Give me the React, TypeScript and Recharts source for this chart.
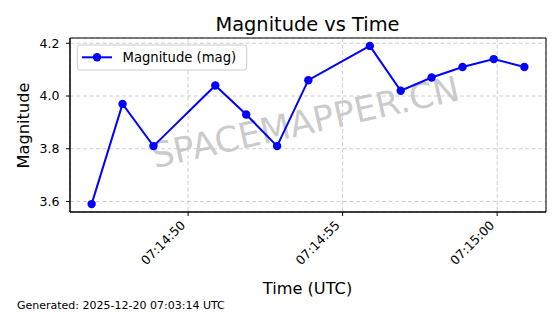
import React from 'react';
import { LineChart, Line, XAxis, YAxis, CartesianGrid, ReferenceArea } from 'recharts';

// seconds after 07:14:00 UTC
const times = [46.88, 47.88, 48.88, 50.88, 51.88, 52.88, 53.89, 55.88, 56.88, 57.88, 58.88, 59.89, 60.88];
const magnitudes = [3.59, 3.97, 3.81, 4.04, 3.93, 3.81, 4.06, 4.19, 4.02, 4.07, 4.11, 4.14, 4.11];
const xTicks = [50, 55, 60];
const xTickLabels = ['07:14:50', '07:14:55', '07:15:00'];
const yTicks = [3.6, 3.8, 4.0, 4.2];
const xDomain = [46.18, 61.58];
const yDomain = [3.56, 4.22];

const seriesName = 'Magnitude (mag)';
const titleText = 'Magnitude vs Time';
const xLabel = 'Time (UTC)';
const yLabel = 'Magnitude';
const footerText = 'Generated: 2025-12-20 07:03:14 UTC';
const watermarkText = 'SPACEMAPPER.CN';

const data = times.map((t, i) => ({ t, mag: magnitudes[i] }));

const FONT = '"DejaVu Sans", Verdana, sans-serif';
const BLUE = '#0000ff';

const XTick = (props: any) => {
  const { x, y, payload } = props;
  const idx = xTicks.indexOf(payload.value);
  const label = idx >= 0 ? xTickLabels[idx] : '';
  const px = x - 2;
  const py = y + 8;
  return (
    <text
      x={px}
      y={py}
      transform={`rotate(-45, ${px}, ${py})`}
      textAnchor="end"
      fontSize={12.5}
      fill="#000"
      fontFamily={FONT}
    >
      {label}
    </text>
  );
};

export default function App() {
  return (
    <div style={{ position: 'absolute', left: 0, top: 0, width: 560, height: 314, background: '#fff', fontFamily: FONT }}>
      {/* watermark behind chart */}
      <svg width={560} height={314} style={{ position: 'absolute', left: 0, top: 0 }}>
        <text
          x={308}
          y={134}
          transform="rotate(-12.6, 308, 134)"
          textAnchor="middle"
          fontSize={35}
          fill="#808080"
          fillOpacity={0.42}
          fontFamily={FONT}
        >
          {watermarkText}
        </text>
      </svg>
      <div style={{ position: 'absolute', left: 0, top: 0 }}>
        <LineChart
          width={560}
          height={314}
          data={data}
          margin={{ top: 38, right: 14, bottom: 0, left: 0 }}
          style={{ fontFamily: FONT }}
        >
          <CartesianGrid stroke="#c8c8c8" strokeDasharray="4 2.5" strokeWidth={0.9} />
          <XAxis
            dataKey="t"
            type="number"
            domain={xDomain}
            allowDataOverflow
            ticks={xTicks}
            interval={0}
            height={102}
            tickSize={4}
            tickMargin={2}
            axisLine={{ stroke: '#000', strokeWidth: 1 }}
            tickLine={{ stroke: '#000', strokeWidth: 1 }}
            tick={<XTick />}
          />
          <YAxis
            type="number"
            domain={yDomain}
            allowDataOverflow
            ticks={yTicks}
            interval={0}
            width={70}
            tickSize={4}
            tickMargin={6.5}
            tickFormatter={(v: number) => v.toFixed(1)}
            axisLine={{ stroke: '#000', strokeWidth: 1 }}
            tickLine={{ stroke: '#000', strokeWidth: 1 }}
            tick={{ fill: '#000', fontSize: 12.5, fontFamily: FONT }}
          />
          <ReferenceArea
            x1={xDomain[0]}
            x2={xDomain[1]}
            y1={yDomain[0]}
            y2={yDomain[1]}
            fill="none"
            stroke="#000"
            strokeWidth={1}
            fillOpacity={0}
          />
          <Line
            type="linear"
            dataKey="mag"
            name={seriesName}
            stroke={BLUE}
            strokeWidth={2}
            dot={{ r: 4.2, fill: BLUE, stroke: BLUE, strokeWidth: 0 }}
            activeDot={false}
            isAnimationActive={false}
          />
        </LineChart>
      </div>
      {/* text overlay */}
      <svg width={560} height={314} style={{ position: 'absolute', left: 0, top: 0, pointerEvents: 'none' }}>
        <text x={307.5} y={30.5} textAnchor="middle" fontSize={19.4} fill="#000" fontFamily={FONT}>
          {titleText}
        </text>
        <text x={307.5} y={293.8} textAnchor="middle" fontSize={16.2} fill="#000" fontFamily={FONT}>
          {xLabel}
        </text>
        <text
          x={29}
          y={125.5}
          transform="rotate(-90, 29, 125.5)"
          textAnchor="middle"
          fontSize={16.2}
          fill="#000"
          fontFamily={FONT}
        >
          {yLabel}
        </text>
        <text x={17} y={308.7} fontSize={11} fill="#000" fontFamily={FONT}>
          {footerText}
        </text>
        {/* legend */}
        <rect x={77.3} y={45} width={169.4} height={25} rx={2.5} fill="#fff" fillOpacity={0.8} stroke="#cccccc" strokeWidth={1} />
        <line x1={82} y1={57.3} x2={112} y2={57.3} stroke={BLUE} strokeWidth={2} />
        <circle cx={97} cy={57.3} r={4.2} fill={BLUE} />
        <text x={122.5} y={62.3} fontSize={13.2} fill="#000" fontFamily={FONT}>
          {seriesName}
        </text>
      </svg>
    </div>
  );
}
